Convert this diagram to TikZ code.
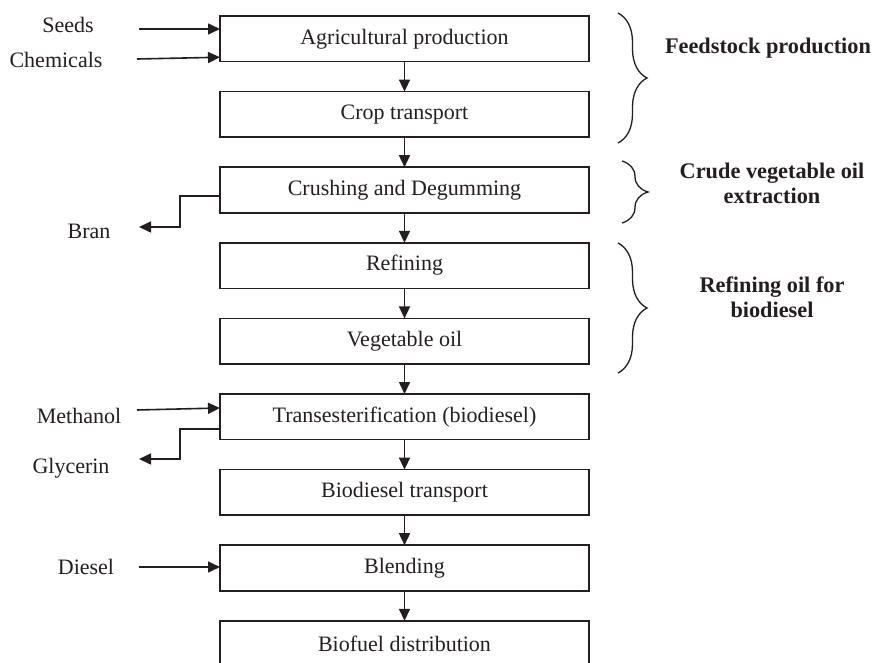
\documentclass[tikz,border=0pt]{standalone}
\usepackage{fontspec}
\setmainfont{Liberation Serif}
\usetikzlibrary{arrows.meta,decorations.pathreplacing,calc}
\definecolor{ink}{HTML}{231F20}
\begin{document}
\begin{tikzpicture}[x=1bp,y=1bp,
 box/.style={draw=ink,line width=1.6bp,minimum width=369bp,minimum height=45.5bp,inner sep=0pt,outer sep=0pt,font=\fontsize{22bp}{26bp}\selectfont,text=ink},
 lbl/.style={font=\fontsize{22bp}{26bp}\selectfont,anchor=base,inner sep=0pt,text=ink},
 grp/.style={font=\fontsize{22.3bp}{24.5bp}\selectfont\bfseries,align=center,anchor=base,inner sep=0pt,text=ink},
 arr/.style={draw=ink,line width=1.6bp,-{Triangle[length=12bp,width=11bp]}},
 brc/.style={draw=ink,line width=1.3bp,decorate,decoration={brace,amplitude=#1}}]
\useasboundingbox (0,0) rectangle (875,-663);
\fill[white] (0,0) rectangle (875,-663);
% boxes
\node[box] (b1) at (404.5,-38.75) {Agricultural production};
\node[box] (b2) at (404.5,-114.35) {Crop transport};
\node[box] (b3) at (404.5,-189.95) {Crushing and Degumming};
\node[box] (b4) at (404.5,-265.55) {Refining};
\node[box] (b5) at (404.5,-341.15) {Vegetable oil};
\node[box] (b6) at (404.5,-416.75) {Transesterification (biodiesel)};
\node[box] (b7) at (404.5,-492.35) {Biodiesel transport};
\node[box] (b8) at (404.5,-567.95) {Blending};
\node[box] (b9) at (404.5,-643.55) {Biofuel distribution};
\foreach \a/\b in {b1/b2,b2/b3,b3/b4,b4/b5,b5/b6,b6/b7,b7/b8,b8/b9}
  \draw[arr] (\a.south) -- (\b.north);
% side labels
\node[lbl] (seeds) at (68,-33) {Seeds};
\node[lbl] (chem) at (56,-68) {Chemicals};
\node[lbl] (bran) at (89,-238) {Bran};
\node[lbl] (meth) at (79,-423) {Methanol};
\node[lbl] (glyc) at (71,-473) {Glycerin};
\node[lbl] (dies) at (86,-574) {Diesel};
% side arrows
\coordinate (seedsA) at (139,-29);
\coordinate (chemA) at (137,-59);
\coordinate (methA) at (137,-410);
\coordinate (diesA) at (139,-567);
\coordinate (branT) at (139,-227);
\coordinate (glycT) at (139,-459);
\draw[arr] (seedsA) -- (b1.west |- seedsA);
\draw[arr] (chemA) -- ([yshift=-18.5bp]b1.west);
\draw[arr] (methA) -- ([yshift=8.75bp]b6.west);
\draw[arr] (diesA) -- (b8.west |- diesA);
\draw[arr] ([yshift=-6bp]b3.west) -- ++(-40,0) |- (branT);
\draw[arr] ([yshift=-12.25bp]b6.west) -- ++(-40,0) |- (glycT);
% braces
\draw[brc=29bp] (618,-13) -- (618,-143);
\draw[brc=26bp] (622,-161) -- (622,-223);
\draw[brc=29bp] (618,-243) -- (618,-373);
% group labels (base = last line)
\node[grp] (g1) at (768,-54) {Feedstock production};
\node[grp] (g2) at (772,-203) {Crude vegetable oil\\extraction};
\node[grp] (g3) at (772,-317) {Refining oil for\\biodiesel};
\end{tikzpicture}
\end{document}
